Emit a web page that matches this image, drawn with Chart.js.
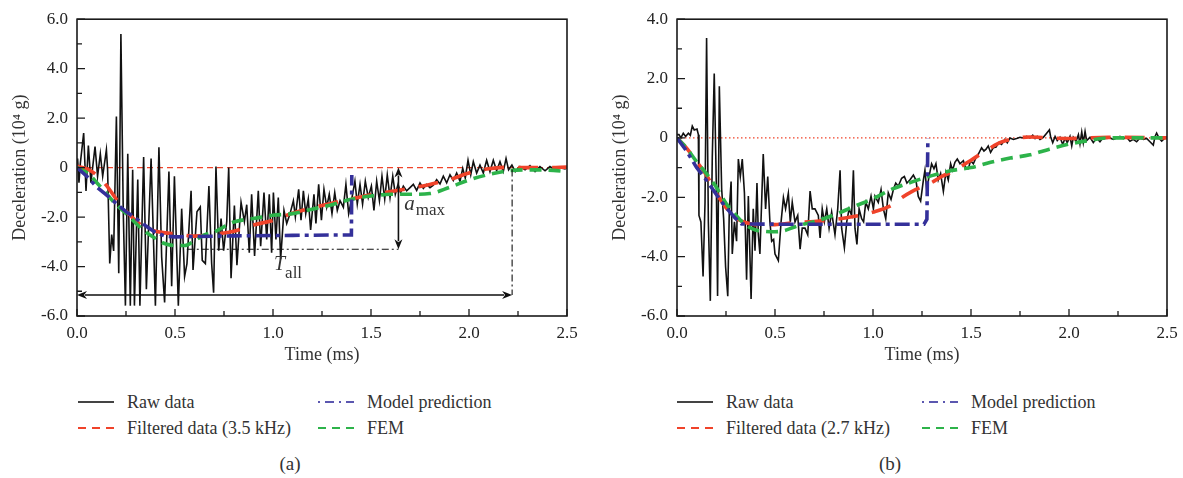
<!DOCTYPE html>
<html>
<head>
<meta charset="utf-8">
<title>Deceleration</title>
<script src="https://cdn.jsdelivr.net/npm/chart.js@4.4.1/dist/chart.umd.min.js"></script>
<style>
  body { margin: 0; background: #fff; font-family: "Liberation Serif", "Times New Roman", serif; color: #333; }
  #page { position: relative; width: 1183px; height: 478px; overflow: hidden; }
  .panel { position: absolute; top: 0; width: 590px; height: 366px; }
  .item { position: absolute; height: 20px; display: flex; align-items: center; font-size: 18px; white-space: nowrap; }
  .item svg { margin-right: 13px; }
  .caption { position: absolute; top: 453px; width: 60px; font-size: 19px; text-align: center; }
</style>
</head>
<body>
<div id="page">
  <div class="panel" style="left:0"><canvas id="chartA" width="590" height="366"></canvas></div>
  <div class="panel" style="left:600px"><canvas id="chartB" width="590" height="366"></canvas></div>

  <!-- legende (a) -->
  <div class="item" style="left:78px;top:392px"><svg width="36" height="10"><line x1="0" y1="5" x2="36" y2="5" stroke="#444" stroke-width="2"/></svg>Raw data</div>
  <div class="item" style="left:318px;top:392px"><svg width="36" height="10"><line x1="0" y1="5" x2="36" y2="5" stroke="#5b57b0" stroke-width="2" stroke-dasharray="2 5 9 5"/></svg>Model prediction</div>
  <div class="item" style="left:78px;top:418px"><svg width="36" height="10"><line x1="0" y1="5" x2="36" y2="5" stroke="#f0432a" stroke-width="2" stroke-dasharray="8 6"/></svg>Filtered data (3.5 kHz)</div>
  <div class="item" style="left:318px;top:418px"><svg width="36" height="10"><line x1="0" y1="5" x2="36" y2="5" stroke="#2db34a" stroke-width="2" stroke-dasharray="8 6"/></svg>FEM</div>
  <div class="caption" style="left:260px">(a)</div>

  <!-- legende (b) -->
  <div class="item" style="left:677px;top:392px"><svg width="36" height="10"><line x1="0" y1="5" x2="36" y2="5" stroke="#444" stroke-width="2"/></svg>Raw data</div>
  <div class="item" style="left:922px;top:392px"><svg width="36" height="10"><line x1="0" y1="5" x2="36" y2="5" stroke="#5b57b0" stroke-width="2" stroke-dasharray="2 5 9 5"/></svg>Model prediction</div>
  <div class="item" style="left:677px;top:418px"><svg width="36" height="10"><line x1="0" y1="5" x2="36" y2="5" stroke="#f0432a" stroke-width="2" stroke-dasharray="8 6"/></svg>Filtered data (2.7 kHz)</div>
  <div class="item" style="left:922px;top:418px"><svg width="36" height="10"><line x1="0" y1="5" x2="36" y2="5" stroke="#2db34a" stroke-width="2" stroke-dasharray="8 6"/></svg>FEM</div>
  <div class="caption" style="left:860px">(b)</div>
</div>

<script>
// Graduations
const xTicks = [0, 0.25, 0.5, 0.75, 1, 1.25, 1.5, 1.75, 2, 2.25, 2.5];
const xTickLabels = ['0.0', '', '0.5', '', '1.0', '', '1.5', '', '2.0', '', '2.5'];
const yTicksA = [-6, -5, -4, -3, -2, -1, 0, 1, 2, 3, 4, 5, 6];
const yTickLabelsA = ['-6.0', '', '-4.0', '', '-2.0', '', '0', '', '2.0', '', '4.0', '', '6.0'];
const yTicksB = [-6, -5, -4, -3, -2, -1, 0, 1, 2, 3, 4];
const yTickLabelsB = ['-6.0', '', '-4.0', '', '-2.0', '', '0', '', '2.0', '', '4.0'];

// Ligne de référence (zéro)
const zeroTime = [0, 2.5];
const zeroLevel = [0, 0];

// (a) données brutes
const rawTimeA = [0.000, 0.003, 0.010, 0.017, 0.034, 0.046, 0.058, 0.071, 0.092, 0.105, 0.119, 0.131, 0.150, 0.156, 0.167, 0.177, 0.187, 0.201, 0.213, 0.224,
  0.236, 0.247, 0.259, 0.272, 0.284, 0.293, 0.310, 0.321, 0.340, 0.354, 0.378, 0.400, 0.418, 0.432, 0.447, 0.469, 0.483, 0.497, 0.517, 0.534,
  0.549, 0.561, 0.582, 0.592, 0.612, 0.629, 0.639, 0.655, 0.673, 0.687, 0.697, 0.709, 0.723, 0.735, 0.748, 0.764, 0.774, 0.786, 0.803, 0.816,
  0.837, 0.854, 0.866, 0.879, 0.891, 0.906, 0.925, 0.937, 0.954, 0.968, 0.981, 0.993, 1.002, 1.015, 1.027, 1.039, 1.056, 1.070, 1.087, 1.104,
  1.114, 1.131, 1.143, 1.155, 1.167, 1.180, 1.192, 1.209, 1.219, 1.233, 1.247, 1.260, 1.274, 1.287, 1.301, 1.315, 1.328, 1.342, 1.359, 1.372,
  1.386, 1.403, 1.418, 1.430, 1.444, 1.457, 1.471, 1.486, 1.502, 1.515, 1.529, 1.543, 1.556, 1.570, 1.583, 1.597, 1.611, 1.624, 1.638, 1.651,
  1.665, 1.682, 1.699, 1.716, 1.733, 1.750, 1.767, 1.784, 1.801, 1.818, 1.835, 1.852, 1.869, 1.886, 1.903, 1.920, 1.937, 1.954, 1.968, 1.981,
  1.995, 2.009, 2.022, 2.039, 2.056, 2.073, 2.090, 2.107, 2.124, 2.141, 2.158, 2.175, 2.189, 2.202, 2.219, 2.236, 2.260, 2.286, 2.311, 2.337,
  2.362, 2.388, 2.413, 2.439, 2.464, 2.490, 2.500];
const rawA = [0.20, 0.37, -0.61, 0.17, 1.40, -0.94, 0.89, -0.61, 0.85, -0.35, 0.56, -0.35, 0.72, -0.05, -3.88, -2.71, -3.37, 2.07, -4.27, 5.40,
  -1.79, -5.58, 0.56, -5.58, -0.09, -5.58, -0.48, -5.58, 0.43, -4.92, 0.37, -5.58, 0.82, -3.62, -5.45, -0.16, -4.80, -0.35, -5.58, -1.66,
  -4.40, -3.88, -0.94, -4.14, -1.79, -1.59, -3.75, -3.88, -0.75, -3.88, -5.06, 0.04, -3.36, -2.06, -3.36, -2.18, 0.00, -4.47, -1.53, -3.95,
  -1.40, -2.18, -1.50, -3.44, -1.08, -3.57, -0.94, -3.18, -1.01, -2.91, -1.08, -3.44, -1.01, -2.91, -1.21, -3.70, -1.73, -2.26, -1.86, -1.34,
  -1.99, -0.88, -2.13, -0.94, -1.86, -1.27, -2.52, -1.08, -2.26, -0.68, -2.13, -0.88, -1.60, -1.08, -1.86, -1.01, -1.73, -1.34, -1.60, -0.68,
  -1.86, -1.21, -0.55, -1.47, -0.68, -1.47, -0.55, -1.21, -0.75, -1.73, -0.55, -1.34, -0.35, -1.27, -0.29, -1.21, -0.35, -1.08, -0.68, -1.01,
  -0.75, -0.94, -0.81, -0.68, -0.92, -0.62, -0.84, -0.68, -0.81, -0.71, -0.49, -0.66, -0.35, -0.62, -0.29, -0.52, -0.22, -0.55, -0.03, -0.42,
  0.30, -0.29, 0.24, -0.22, 0.10, -0.22, 0.30, -0.16, 0.30, -0.13, 0.24, -0.16, 0.37, -0.09, 0.10, -0.16, 0.04, -0.09, 0.08, -0.16,
  0.04, -0.13, 0.04, -0.09, 0.00, -0.05, 0.00];

// (a) données filtrées 3.5 kHz
const filtTimeA = [0, 0.05, 0.1, 0.15, 0.2, 0.25, 0.3, 0.35, 0.4, 0.45, 0.5, 0.6, 0.7, 0.8, 0.9, 1.0, 1.1, 1.2, 1.3, 1.4, 1.5, 1.6, 1.7, 1.8, 1.9, 2.0, 2.1, 2.2, 2.3, 2.4, 2.5];
const filtA = [0.05, -0.05, -0.3, -0.72, -1.27, -1.75, -2.15, -2.44, -2.57, -2.64, -2.68, -2.77, -2.7, -2.57, -2.32, -2.13, -1.84, -1.63, -1.44, -1.27, -1.1, -0.97, -0.84, -0.68, -0.49, -0.22, -0.05, 0.01, 0, 0, 0.02];

// (a) FEM
const femTimeA = [0, 0.05, 0.1, 0.15, 0.2, 0.25, 0.3, 0.35, 0.4, 0.45, 0.5, 0.55, 0.6, 0.65, 0.7, 0.8, 0.9, 1.0, 1.1, 1.2, 1.3, 1.4, 1.5, 1.6, 1.7, 1.8, 1.9, 2.0, 2.1, 2.2, 2.3, 2.4, 2.5];
const femA = [0, -0.2, -0.6, -1.05, -1.5, -1.85, -2.25, -2.6, -2.86, -3.08, -3.15, -3.15, -2.95, -2.72, -2.6, -2.2, -2.06, -1.93, -1.86, -1.68, -1.5, -1.28, -1.15, -1.08, -1.08, -1.05, -0.8, -0.5, -0.28, -0.13, -0.09, -0.1, -0.16];

// (a) prédiction du modèle
const modelTimeA = [0, 0.05, 0.1, 0.15, 0.2, 0.25, 0.3, 0.35, 0.4, 0.45, 0.5, 0.8, 1.1, 1.4, 1.402];
const modelA = [0, -0.35, -0.78, -1.1, -1.45, -1.78, -2.05, -2.35, -2.62, -2.77, -2.8, -2.76, -2.74, -2.72, -0.3];

// (a) repères a_max et T_all
const guideStartA = 0.56;
const aMaxTimeA = 1.64;
const aMaxA = -3.30;
const tAllEndA = 2.22;
const tAllLevelA = -5.15;

// (b) données brutes
const rawTimeB = [0.000, 0.010, 0.020, 0.032, 0.044, 0.058, 0.068, 0.078, 0.088, 0.102, 0.109, 0.112, 0.122, 0.133, 0.143, 0.151, 0.160, 0.170, 0.180, 0.190,
  0.201, 0.207, 0.216, 0.228, 0.238, 0.248, 0.259, 0.267, 0.276, 0.282, 0.293, 0.304, 0.313, 0.323, 0.333, 0.344, 0.355, 0.364, 0.378, 0.389,
  0.398, 0.408, 0.415, 0.423, 0.440, 0.452, 0.463, 0.474, 0.483, 0.493, 0.500, 0.517, 0.531, 0.543, 0.554, 0.568, 0.578, 0.588, 0.602, 0.616,
  0.628, 0.639, 0.653, 0.667, 0.679, 0.690, 0.704, 0.721, 0.730, 0.741, 0.752, 0.764, 0.776, 0.789, 0.806, 0.820, 0.832, 0.840, 0.854, 0.866,
  0.878, 0.891, 0.900, 0.908, 0.918, 0.929, 0.942, 0.952, 0.963, 0.976, 0.990, 1.002, 1.010, 1.027, 1.041, 1.053, 1.065, 1.078, 1.092, 1.104,
  1.116, 1.129, 1.146, 1.160, 1.173, 1.189, 1.206, 1.219, 1.231, 1.243, 1.257, 1.265, 1.274, 1.287, 1.299, 1.311, 1.321, 1.333, 1.345, 1.359,
  1.372, 1.384, 1.396, 1.406, 1.418, 1.430, 1.444, 1.461, 1.474, 1.486, 1.498, 1.512, 1.526, 1.537, 1.554, 1.566, 1.577, 1.588, 1.600, 1.614,
  1.628, 1.641, 1.656, 1.673, 1.685, 1.699, 1.716, 1.733, 1.750, 1.767, 1.784, 1.801, 1.815, 1.827, 1.838, 1.852, 1.869, 1.886, 1.900, 1.906,
  1.917, 1.929, 1.940, 1.954, 1.968, 1.980, 1.991, 2.005, 2.014, 2.022, 2.036, 2.048, 2.056, 2.065, 2.073, 2.082, 2.090, 2.107, 2.124, 2.141,
  2.158, 2.175, 2.192, 2.209, 2.226, 2.243, 2.260, 2.277, 2.294, 2.311, 2.328, 2.345, 2.362, 2.379, 2.396, 2.413, 2.430, 2.439, 2.447, 2.461,
  2.473, 2.490, 2.498];
const rawB = [0.11, 0.11, 0.00, 0.16, 0.05, 0.16, 0.09, 0.40, 0.27, 0.30, 0.11, -2.61, -2.83, -4.67, -2.17, 3.37, -2.83, -5.49, -0.65, 2.17,
  -1.74, -5.33, 1.74, -1.74, -2.72, -4.35, -5.33, -2.39, -1.47, -3.91, -2.83, -3.48, -0.71, -1.30, -0.71, -1.85, -4.78, -1.96, -5.43, -2.39,
  -3.80, -1.52, -3.26, -3.91, -0.54, -2.39, -1.30, -2.83, -3.48, -3.42, -3.91, -4.13, -2.83, -2.01, -2.39, -1.87, -2.83, -2.17, -2.83, -2.61,
  -3.75, -3.04, -3.04, -3.26, -1.79, -2.39, -2.39, -2.61, -3.37, -2.39, -2.83, -2.39, -3.04, -2.50, -3.26, -2.39, -1.09, -3.04, -3.70, -2.83,
  -2.39, -2.61, -1.09, -3.04, -3.59, -2.39, -2.72, -2.83, -2.17, -2.39, -1.96, -2.39, -1.96, -2.17, -1.74, -2.39, -2.72, -1.85, -2.07, -1.74,
  -1.52, -1.63, -1.36, -1.30, -1.52, -1.41, -1.25, -1.42, -1.97, -2.13, -1.42, -1.09, -1.75, -1.26, -0.87, -1.04, -0.87, -1.42, -1.20, -1.80,
  -1.15, -1.42, -0.87, -1.09, -0.82, -0.71, -0.87, -0.77, -1.04, -1.04, -0.77, -0.87, -0.66, -0.55, -0.33, -0.44, -0.38, -0.27, -0.49, -0.33,
  -0.31, -0.16, -0.22, -0.05, -0.16, 0.00, -0.05, -0.02, 0.02, 0.00, 0.05, 0.00, 0.09, -0.02, 0.05, -0.05, 0.02, 0.16, 0.27, 0.05,
  -0.16, 0.05, -0.09, 0.02, -0.22, 0.00, -0.16, 0.05, -0.27, 0.02, -0.11, 0.11, -0.20, 0.20, -0.16, 0.22, -0.09, 0.02, -0.16, 0.00,
  -0.13, 0.02, -0.02, 0.00, -0.05, 0.00, 0.05, -0.02, 0.02, -0.11, -0.05, -0.13, 0.00, -0.05, -0.02, -0.13, -0.24, 0.05, 0.16, -0.02,
  -0.11, 0.00, 0.02];

// (b) données filtrées 2.7 kHz
const filtTimeB = [0, 0.05, 0.1, 0.15, 0.2, 0.25, 0.3, 0.35, 0.4, 0.5, 0.6, 0.7, 0.8, 0.9, 1.0, 1.1, 1.15, 1.2, 1.3, 1.35, 1.4, 1.5, 1.6, 1.65, 1.7, 1.8, 1.9, 2.0, 2.2, 2.5];
const filtB = [0, -0.35, -0.8, -1.25, -1.85, -2.35, -2.7, -2.85, -2.92, -2.92, -2.85, -2.82, -2.75, -2.65, -2.5, -2.25, -2.0, -1.8, -1.5, -1.3, -1.15, -0.75, -0.33, -0.15, -0.05, 0.03, 0.0, -0.02, 0.02, 0];

// (b) FEM
const femTimeB = [0, 0.05, 0.1, 0.15, 0.2, 0.25, 0.3, 0.35, 0.4, 0.45, 0.5, 0.55, 0.6, 0.65, 0.7, 0.8, 0.9, 1.0, 1.1, 1.2, 1.3, 1.4, 1.5, 1.6, 1.7, 1.8, 1.9, 2.0, 2.1, 2.2, 2.3, 2.4, 2.5];
const femB = [0, -0.35, -0.8, -1.2, -1.65, -2.2, -2.6, -2.93, -3.1, -3.15, -3.16, -3.12, -3.0, -2.9, -2.82, -2.6, -2.32, -2.05, -1.72, -1.48, -1.27, -1.1, -1.0, -0.82, -0.68, -0.57, -0.38, -0.21, -0.09, 0, 0, 0, 0];

// (b) prédiction du modèle
const modelTimeB = [0, 0.05, 0.1, 0.15, 0.2, 0.25, 0.3, 0.33, 0.6, 0.9, 1.26, 1.275, 1.28];
const modelB = [0, -0.45, -1.0, -1.42, -1.9, -2.35, -2.72, -2.9, -2.91, -2.91, -2.91, -2.74, 0];

// Couleurs
const RED = '#f0432a';
const GREEN = '#2db34a';
const BLUE = '#34309a';
const SERIF = '"Liberation Serif", "Times New Roman", serif';

const pts = (xs, ys) => xs.map((x, i) => ({ x: x, y: ys[i] }));

// Cadre + graduations vers l'intérieur
const framePlugin = {
    id: 'frame',
    afterDraw(chart) {
        const { ctx, chartArea: a, scales: { x, y } } = chart;
        ctx.save();
        ctx.strokeStyle = '#1a1a1a';
        ctx.lineWidth = 1.6;
        ctx.strokeRect(a.left, a.top, a.right - a.left, a.bottom - a.top);
        ctx.lineWidth = 1.3;
        ctx.beginPath();
        x.ticks.forEach(t => {
            const px = x.getPixelForValue(t.value);
            ctx.moveTo(px, a.bottom);
            ctx.lineTo(px, a.bottom - (t.label ? 7 : 5));
        });
        y.ticks.forEach(t => {
            const py = y.getPixelForValue(t.value);
            ctx.moveTo(a.left, py);
            ctx.lineTo(a.left + (t.label ? 8 : 5), py);
        });
        ctx.stroke();
        ctx.restore();
    }
};

function arrowHead(ctx, x, y, ang) {
    ctx.save();
    ctx.translate(x, y);
    ctx.rotate(ang);
    ctx.beginPath();
    ctx.moveTo(0, 0);
    ctx.lineTo(-10, -4);
    ctx.lineTo(-7, 0);
    ctx.lineTo(-10, 4);
    ctx.closePath();
    ctx.fill();
    ctx.restore();
}

// Annotations du panneau (a)
const annotA = {
    id: 'annotA',
    afterDraw(chart) {
        const { ctx, scales: { x, y } } = chart;
        const X = v => x.getPixelForValue(v);
        const Y = v => y.getPixelForValue(v);
        ctx.save();
        ctx.strokeStyle = '#111';
        ctx.fillStyle = '#111';

        // lignes mixtes
        ctx.lineWidth = 1.1;
        ctx.setLineDash([7, 3, 2, 3]);
        ctx.beginPath();
        ctx.moveTo(X(guideStartA), Y(aMaxA));
        ctx.lineTo(X(aMaxTimeA), Y(aMaxA));
        ctx.moveTo(X(tAllEndA), Y(0) + 2);
        ctx.lineTo(X(tAllEndA), Y(tAllLevelA));
        ctx.stroke();

        // flèches
        ctx.setLineDash([]);
        ctx.lineWidth = 1.6;
        ctx.beginPath();
        ctx.moveTo(X(aMaxTimeA), Y(0) + 8);
        ctx.lineTo(X(aMaxTimeA), Y(aMaxA) - 8);
        ctx.moveTo(X(0) + 8, Y(tAllLevelA));
        ctx.lineTo(X(tAllEndA) - 8, Y(tAllLevelA));
        ctx.stroke();
        arrowHead(ctx, X(aMaxTimeA), Y(0), -Math.PI / 2);
        arrowHead(ctx, X(aMaxTimeA), Y(aMaxA), Math.PI / 2);
        arrowHead(ctx, X(0), Y(tAllLevelA), Math.PI);
        arrowHead(ctx, X(tAllEndA), Y(tAllLevelA), 0);

        // textes
        ctx.fillStyle = '#333';
        ctx.textBaseline = 'alphabetic';
        ctx.font = 'italic 21px ' + SERIF;
        ctx.fillText('a', X(1.67), Y(-1.73));
        const wa = ctx.measureText('a').width;
        ctx.font = '17px ' + SERIF;
        ctx.fillText('max', X(1.67) + wa + 1, Y(-1.93));

        ctx.font = 'italic 20px ' + SERIF;
        ctx.fillText('T', X(1.005), Y(-4.13));
        const wt = ctx.measureText('T').width;
        ctx.font = '17px ' + SERIF;
        ctx.fillText('all', X(1.005) + wt, Y(-4.45));
        ctx.restore();
    }
};

function makePanel(id, p) {
    const ctx = document.getElementById(id).getContext('2d');
    return new Chart(ctx, {
        type: 'line',
        data: {
            datasets: [
                { label: 'zero', data: pts(zeroTime, zeroLevel), borderColor: RED, borderWidth: 1.1, borderDash: p.zeroDash, order: 11 },
                { label: 'Raw data', data: pts(p.rawT, p.raw), borderColor: '#111', borderWidth: 1.6, order: 10 },
                { label: p.filtLabel, data: pts(p.filtT, p.filt), borderColor: RED, borderWidth: 3.6, borderDash: [20, 14], cubicInterpolationMode: 'monotone', order: 3 },
                { label: 'FEM', data: pts(p.femT, p.fem), borderColor: GREEN, borderWidth: 3.6, borderDash: [12, 7], cubicInterpolationMode: 'monotone', order: 2 },
                { label: 'Model prediction', data: pts(p.modelT, p.model), borderColor: BLUE, borderWidth: 3.6, borderDash: [15, 5, 4, 5], order: 1 }
            ]
        },
        options: {
            responsive: false,
            animation: false,
            devicePixelRatio: 1,
            layout: { padding: { top: 11, right: 23, left: 0, bottom: 0 } },
            elements: { point: { radius: 0 }, line: { tension: 0 } },
            plugins: { legend: { display: false }, tooltip: { enabled: false } },
            scales: {
                x: {
                    type: 'linear',
                    min: 0,
                    max: 2.5,
                    afterFit: s => { s.height = 50; },
                    afterBuildTicks: s => { s.ticks = xTicks.map(v => ({ value: v })); },
                    ticks: {
                        padding: 7, maxRotation: 0, autoSkip: false, color: '#222',
                        font: { family: SERIF, size: 17 },
                        callback: (v, i) => xTickLabels[i]
                    },
                    grid: { display: false, drawTicks: false },
                    border: { display: false },
                    title: { display: true, text: 'Time (ms)', color: '#333', font: { family: SERIF, size: 18 }, padding: 0 }
                },
                y: {
                    min: p.yTicks[0],
                    max: p.yTicks[p.yTicks.length - 1],
                    afterFit: s => { s.width = 77; },
                    afterBuildTicks: s => { s.ticks = p.yTicks.map(v => ({ value: v })); },
                    ticks: {
                        padding: 9, autoSkip: false, color: '#222',
                        font: { family: SERIF, size: 17 },
                        callback: (v, i) => p.yLabels[i]
                    },
                    grid: { display: false, drawTicks: false },
                    border: { display: false },
                    title: { display: true, text: 'Deceleration (10\u2074 g)', color: '#333', font: { family: SERIF, size: 18 }, padding: { top: 9, bottom: 0 } }
                }
            }
        },
        plugins: [framePlugin].concat(p.extra || [])
    });
}

document.addEventListener('DOMContentLoaded', () => {
    makePanel('chartA', {
        rawT: rawTimeA, raw: rawA, filtT: filtTimeA, filt: filtA, filtLabel: 'Filtered data (3.5 kHz)',
        femT: femTimeA, fem: femA, modelT: modelTimeA, model: modelA,
        yTicks: yTicksA, yLabels: yTickLabelsA, zeroDash: [6, 4], extra: [annotA]
    });
    makePanel('chartB', {
        rawT: rawTimeB, raw: rawB, filtT: filtTimeB, filt: filtB, filtLabel: 'Filtered data (2.7 kHz)',
        femT: femTimeB, fem: femB, modelT: modelTimeB, model: modelB,
        yTicks: yTicksB, yLabels: yTickLabelsB, zeroDash: [1.5, 2.5]
    });
});
</script>
</body>
</html>
